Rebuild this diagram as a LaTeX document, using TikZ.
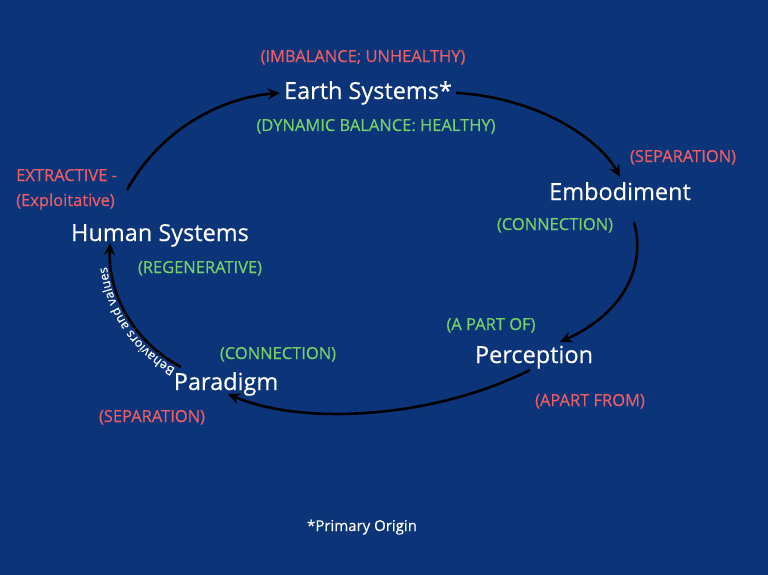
\documentclass[tikz,border=0pt]{standalone}
\usepackage{fontspec}
\setmainfont{Open Sans}[FakeBold=0.4]
\usetikzlibrary{arrows.meta,decorations.text}
\definecolor{bg}{RGB}{11,52,121}
\definecolor{lblred}{RGB}{236,94,102}
\definecolor{lblgreen}{RGB}{120,208,104}
\begin{document}
\begin{tikzpicture}[x=1pt,y=-1pt,
  main/.style={font=\fontsize{23.5}{27}\selectfont, text=white, inner sep=0pt, anchor=base},
  redlbl/.style={font=\fontsize{16.5}{19}\selectfont, text=lblred, inner sep=0pt, anchor=base},
  greenlbl/.style={font=\fontsize{16.5}{19}\selectfont, text=lblgreen, inner sep=0pt, anchor=base},
  note/.style={font=\fontsize{15}{18}\selectfont, text=white, inner sep=0pt, anchor=base},
  flow/.style={line width=2.6pt, black, -{Stealth[length=12pt,width=11pt]}}]
\fill[bg] (0,0) rectangle (768,575);
\useasboundingbox (0,0) rectangle (768,575);

\node[redlbl] (imb) at (363,62) {(IMBALANCE; UNHEALTHY)};
\node[main] (earth) at (368,99) {Earth Systems*};
\node[greenlbl] (dyn) at (376,131) {(DYNAMIC BALANCE: HEALTHY)};
\node[redlbl] (sepR) at (683,162) {(SEPARATION)};
\node[main] (emb) at (620,200) {Embodiment};
\node[greenlbl] (conR) at (555,230) {(CONNECTION)};
\node[greenlbl] (part) at (491,330) {(A PART OF)};
\node[main] (perc) at (534,363) {Perception};
\node[redlbl] (apart) at (590,406) {(APART FROM)};
\node[greenlbl] (conL) at (278,359) {(CONNECTION)};
\node[main] (para) at (226,390) {Paradigm};
\node[redlbl] (sepL) at (152,422) {(SEPARATION)};
\node[main] (human) at (160,241) {Human Systems};
\node[greenlbl] (regen) at (200,273) {(REGENERATIVE)};
\node[redlbl, anchor=base west] (extr) at (16,181) {EXTRACTIVE -};
\node[redlbl, anchor=base west] (expl) at (16,206) {(Exploitative)};
\node[note] (orig) at (362,531) {*Primary Origin};

\coordinate (hOut) at (127,190);
\coordinate (embIn) at (620,177);
\coordinate (embOut) at (634,222);
\coordinate (percIn) at (560,342);
\coordinate (percOut) at (530,370);
\coordinate (paraIn) at (228,394);
\coordinate (paraOut) at (181,367);
\coordinate (hIn) at (110,243);

\draw[flow] (hOut) .. controls (160,130) and (220,98) .. ([xshift=-4pt]earth.west);
\draw[flow] ([xshift=4pt]earth.east) .. controls (540,98) and (600,140) .. (embIn);
\draw[flow] (embOut) .. controls (645,260) and (630,310) .. (percIn);
\draw[flow] (percOut) .. controls (430,420) and (300,425) .. (paraIn);
\draw[flow] (paraOut) .. controls (130,340) and (108,290) .. (hIn);
\path[decorate, decoration={text along path, raise=4pt,
    text format delimiters={|}{|},
    text={|\fontsize{12.5}{14}\selectfont\color{white}|Behaviors and values},
    text align={left indent=4pt}}]
  (paraOut) .. controls (130,340) and (108,290) .. (hIn);
\end{tikzpicture}
\end{document}
